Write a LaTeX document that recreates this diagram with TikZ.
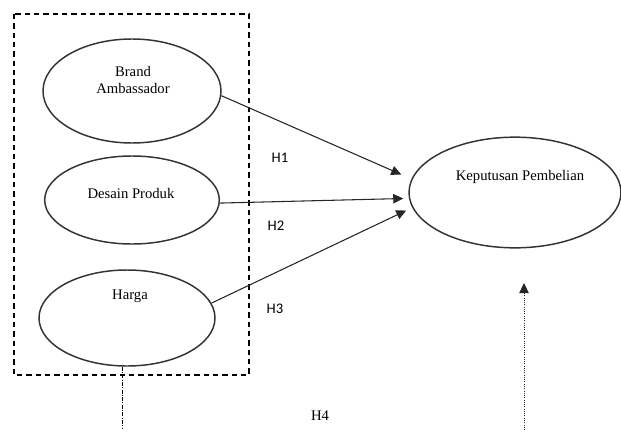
\documentclass[tikz,border=0pt]{standalone}
\usepackage{fontspec}
\setmainfont{Liberation Serif}
\newfontfamily\calibri{Carlito}
\usetikzlibrary{arrows.meta,shapes.geometric,positioning,calc}
\tikzset{
  var/.style={ellipse,draw=black!80,line width=1.1pt,minimum width=#1,
              inner sep=0pt},
  var/.default=132pt,
  lbl/.style={font=\fontsize{11}{12.5}\selectfont,align=center,inner sep=0pt},
  hyp/.style={font=\calibri\fontsize{11}{12}\selectfont,inner sep=0pt},
  arrow/.style={-{Triangle[length=7.5pt,width=7pt]},line width=0.8pt,black!85},
  group/.style={draw,dashed,dash pattern=on 4pt off 3pt,line width=0.8pt},
}
\begin{document}
\begin{tikzpicture}[x=0.75pt,y=-0.75pt]
  \useasboundingbox (0,0) rectangle (621,432);

    % Group of independent variables
    \draw[group] (14,14) rectangle (249,375);

    % Independent variables
    \node[var=133.5pt,minimum height=78pt] (ba) at (132,91) {};
    \node[lbl] at (133,80) {Brand\\Ambassador};

    \node[var=131pt,minimum height=66pt] (dp) at (132,200) {};
    \node[lbl] at (131,193) {Desain Produk};

    \node[var=132pt,minimum height=72pt] (hg) at (127,318) {};
    \node[lbl] at (130,296) {Harga};

    % Dependent variable
    \node[var=159pt,minimum height=83pt] (kp) at (515,192.5) {};
    \node[lbl] at (520,177) {Keputusan Pembelian};

    % Arrow ends
    \coordinate (in1) at ([shift={(-7,-18)}]kp.west);
    \coordinate (in2) at ([shift={(-5,6)}]kp.west);
    \coordinate (in3) at ([shift={(-2,18)}]kp.west);
    \coordinate (h4l) at (122,428);
    \coordinate (h4r) at (524,430);
    \coordinate (h4t) at (524,283);

    \draw[arrow] (ba.-3) -- (in1);
    \draw[arrow] (dp.-2) -- (in2);
    \draw[arrow] (hg.10) -- (in3);
    \draw[line width=0.7pt,densely dashdotted] (hg.south -| h4l) -- (h4l);
    \draw[arrow,line width=0.7pt,densely dotted] (h4r) -- (h4t);

    % Hypotheses
    \node[hyp] (h1) at (280,158) {H1};
    \node[hyp] (h2) at (276,226) {H2};
    \node[hyp] (h3) at (275,309) {H3};
    \node[lbl] (h4) at (320,416) {H4};

\end{tikzpicture}
\end{document}
